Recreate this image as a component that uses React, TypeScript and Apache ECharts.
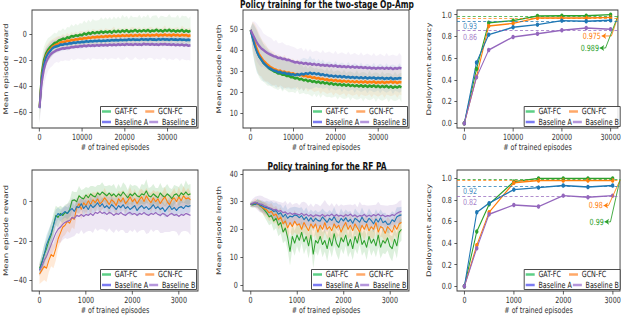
import React, { useEffect, useRef } from 'react';
import * as echarts from 'echarts';

const W = 831, H = 317;
const S = 623 / W;
const X = (v: number) => v / S;
const FONT = 'DejaVu Sans';

const NAMES = ['GAT-FC', 'GCN-FC', 'Baseline A', 'Baseline B'];
const COLORS = ['#2ca02c', '#ff7f0e', '#1f77b4', '#9467bd'];
const LEGEND_COLORS = ['#5ccf86', '#ffa868', '#7b7bf2', '#b596dc'];

// ---------- Op-Amp: reward (every 500 episodes) ----------
const TOP_STEP = 500;
const TL_GAT = [-56, -30, -20, -15, -12, -10, -8.5, -7, -6.5, -5,
  -4.5, -3.5, -4, -2.5, -3, -1.5, -2, -1, -1.5, -0.5,
  -1, 0.5, -0.5, 1, 0, 1.5, 0.5, 1.5, 0.8, 2,
  1, 2, 1.2, 2.2, 1, 2.5, 1.5, 2.5, 1.5, 2.8,
  1.8, 3, 1.5, 2.5, 2, 3.2, 1.8, 2.8, 2, 3,
  2, 3.2, 1.8, 2.8, 2.2, 3.4, 2, 3, 1.8, 3.2,
  2.2, 3.4, 2, 3, 1.8, 2.8, 2, 3.2, 1.6, 2.8,
  1.8, 2.6];
const TL_GCN = [-56, -33, -23, -17, -14, -12, -10, -9, -8, -7.5,
  -6.5, -6, -6.2, -5, -5.5, -4.5, -4.8, -4, -4.2, -3.5,
  -3.8, -3, -3.4, -2.6, -3, -2.2, -2.7, -2, -2.5, -1.8,
  -2.3, -1.6, -2.1, -1.4, -2, -1.2, -1.8, -1.1, -1.7, -1,
  -1.6, -0.9, -1.5, -0.8, -1.6, -0.7, -1.4, -0.6, -1.5, -0.8,
  -1.3, -0.5, -1.4, -0.7, -1.2, -0.4, -1.3, -0.6, -1.1, -0.3,
  -1.2, -0.5, -1.3, -0.4, -1.1, -0.6, -1.4, -0.5, -1.2, -0.7,
  -1.5, -0.9];
const TL_A = [-57, -34, -24, -18, -15, -13, -11, -10, -9.5, -9,
  -8, -8.2, -7.5, -7.8, -7, -7.2, -6.5, -6.8, -6.2, -6.5,
  -6, -6.2, -5.6, -6, -5.4, -5.8, -5.2, -5.6, -5, -5.5,
  -4.9, -5.3, -4.7, -5.2, -4.6, -5, -4.5, -4.9, -4.3, -4.8,
  -4.4, -4.7, -4.1, -4.6, -4, -4.5, -4.2, -4.6, -3.9, -4.4,
  -4, -4.5, -3.8, -4.3, -4.1, -4.6, -3.9, -4.4, -3.8, -4.3,
  -4, -4.5, -3.9, -4.4, -4.1, -4.6, -4, -4.5, -4.2, -4.7,
  -4.3, -4.8];
const TL_B = [-57, -38, -28, -22, -18.5, -16, -14.5, -13.5, -12.5, -12,
  -11.5, -11, -11.2, -10.5, -10.8, -10, -10.2, -9.6, -9.9, -9.2,
  -9.5, -8.9, -9.4, -8.7, -9.2, -8.6, -9.1, -8.4, -9, -8.3,
  -8.9, -8.2, -8.8, -8.1, -8.7, -8, -8.6, -7.9, -8.5, -7.8,
  -8.4, -7.7, -8.3, -7.9, -8.5, -7.6, -8.2, -7.8, -8.4, -7.5,
  -8.1, -7.7, -8.3, -7.6, -8.2, -7.8, -8.4, -7.7, -8.1, -7.6,
  -8.3, -7.8, -8.5, -7.9, -8.6, -8, -8.7, -8.1, -8.8, -8.2,
  -9, -8.6];
const TL_GAT_S = [12, 11, 10, 9, 9, 8, 8, 8, 7, 8, 7, 8, 7, 8, 8, 9, 8, 9, 8, 9,
  9, 10, 9, 10, 9, 10, 10, 9, 10, 11, 10, 11, 10, 11, 10, 11, 10, 11, 10, 12,
  11, 11, 10, 12, 11, 10, 11, 12, 10, 11, 11, 12, 10, 11, 12, 11, 10, 11, 12, 10,
  11, 12, 11, 10, 11, 12, 10, 11, 12, 11, 10, 11];
const TL_GCN_S = [12, 10, 9, 8, 7, 7, 6, 6, 6, 6, 5, 6, 5, 6, 5, 6, 5, 6, 5, 6,
  6, 5, 6, 6, 5, 6, 6, 5, 6, 6, 5, 6, 6, 5, 6, 7, 5, 6, 6, 5,
  6, 6, 5, 6, 7, 5, 6, 6, 5, 6, 6, 5, 7, 6, 5, 6, 6, 5, 6, 7,
  5, 6, 6, 5, 6, 6, 5, 7, 6, 5, 6, 6];
const TL_A_S = [12, 10, 8, 7, 6, 6, 6, 5, 5, 5, 5, 5, 4, 5, 5, 4, 5, 5, 4, 5,
  5, 4, 5, 5, 4, 5, 5, 4, 5, 5, 4, 5, 5, 4, 5, 5, 4, 5, 5, 4,
  5, 5, 4, 5, 5, 4, 5, 5, 4, 5, 5, 4, 5, 5, 4, 5, 5, 4, 5, 5,
  4, 5, 5, 4, 5, 5, 4, 5, 5, 4, 5, 5];
const TL_B_S = [12, 13, 12, 11, 10, 10, 10, 9, 9, 10, 9, 10, 9, 10, 10, 9, 10, 10, 9, 10,
  10, 11, 10, 10, 11, 10, 10, 11, 10, 11, 11, 10, 11, 11, 10, 11, 11, 10, 11, 12,
  11, 10, 11, 12, 11, 10, 11, 12, 11, 11, 12, 11, 10, 11, 12, 11, 11, 12, 10, 11,
  12, 11, 11, 12, 10, 11, 12, 11, 11, 12, 11, 12];

// ---------- Op-Amp: episode length ----------
const TM_GAT = [49.5, 46, 42.5, 39.5, 37, 35.5, 34, 33, 32, 31,
  30.5, 29.8, 29.5, 28.8, 28.9, 28.2, 28.3, 27.6, 27.8, 27,
  27, 26.4, 26.8, 25.9, 26.3, 25.5, 25.9, 25.1, 25.6, 24.8,
  25.2, 24.5, 25, 24.2, 24.8, 24, 24.5, 23.7, 24.3, 23.5,
  24, 23.3, 23.9, 23.1, 23.7, 22.9, 23.6, 22.8, 23.4, 22.7,
  23.3, 22.6, 23.3, 22.5, 23.2, 22.4, 23.1, 22.5, 23.2, 22.3,
  23, 22.2, 22.9, 22.3, 23, 22.1, 22.8, 22, 22.7, 22.1,
  22.8, 22.2];
const TM_GCN = [49.5, 46.5, 43.5, 40.5, 38, 36.5, 35, 34, 33, 32.2,
  31.5, 31, 30.6, 30, 30.2, 29.5, 29.7, 29.1, 29.3, 28.7,
  28.9, 28.3, 28.6, 27.9, 28.2, 27.5, 27.8, 27.1, 27.4, 26.7,
  27, 26.4, 26.7, 26.1, 26.4, 25.8, 26.1, 25.5, 25.9, 25.3,
  25.7, 25.1, 25.5, 24.9, 25.4, 24.8, 25.3, 24.7, 25.2, 24.6,
  25.1, 24.5, 25, 24.5, 25.1, 24.4, 24.9, 24.5, 25, 24.3,
  24.8, 24.4, 24.9, 24.3, 24.8, 24.5, 25, 24.4, 24.9, 24.3,
  24.8, 24.5];
const TM_A = [49.5, 45.5, 42, 39, 37, 35.5, 34, 33, 32, 31.3,
  30.8, 30.2, 30, 29.4, 29.6, 29, 29.2, 28.6, 28.8, 28.2,
  28.5, 28, 28.5, 28.1, 28.7, 28.3, 29, 28.5, 29.2, 28.6,
  29, 28.4, 28.8, 28.1, 28.5, 27.8, 28.2, 27.5, 27.9, 27.3,
  27.7, 27.2, 27.6, 27, 27.5, 26.9, 27.3, 26.8, 27.2, 26.7,
  27.1, 26.6, 27, 26.5, 27, 26.4, 26.9, 26.5, 26.9, 26.3,
  26.8, 26.4, 26.8, 26.2, 26.7, 26.3, 26.8, 26.1, 26.6, 26.3,
  26.7, 26.4];
const TM_B = [49.5, 47.5, 45.5, 43.5, 42, 40.8, 40, 39.2, 38.5, 38,
  37.5, 37, 36.8, 36.2, 36.3, 35.7, 35.8, 35.2, 35.3, 34.8,
  34.5, 34, 34.3, 33.7, 34, 33.4, 33.8, 33.2, 33.6, 33,
  33.4, 32.8, 33.2, 32.6, 33, 32.5, 32.9, 32.3, 32.7, 32.2,
  32.6, 32, 32.4, 31.9, 32.3, 31.8, 32.2, 31.7, 32.1, 31.6,
  32, 31.5, 31.9, 31.4, 31.8, 31.3, 31.7, 31.2, 31.6, 31.1,
  31.5, 31.2, 31.6, 31, 31.5, 31.1, 31.5, 30.9, 31.4, 31.1,
  31.6, 31.2];
const TM_GAT_S = [1, 7, 9, 10, 10, 10, 9, 9, 9, 8, 8, 8, 8, 8, 7, 8, 7, 7, 8, 7,
  7, 7, 6, 7, 7, 6, 7, 6, 7, 7, 6, 7, 6, 7, 6, 6, 7, 6, 7, 6,
  6, 7, 6, 6, 7, 6, 6, 7, 6, 6, 7, 6, 6, 7, 6, 6, 7, 6, 6, 7,
  6, 6, 7, 6, 6, 7, 6, 6, 7, 6, 6, 7];
const TM_GCN_S = [1, 7, 9, 10, 10, 9, 9, 9, 8, 8, 8, 8, 7, 8, 7, 7, 8, 7, 7, 7,
  7, 6, 7, 7, 6, 7, 6, 7, 6, 6, 7, 6, 6, 7, 6, 6, 7, 6, 6, 7,
  6, 6, 7, 6, 6, 7, 6, 6, 7, 6, 6, 7, 6, 6, 7, 6, 6, 7, 6, 6,
  7, 6, 6, 7, 6, 6, 7, 6, 6, 7, 6, 6];
const TM_A_S = [1, 7, 9, 10, 9, 9, 9, 8, 8, 8, 8, 7, 8, 7, 7, 8, 7, 7, 7, 7,
  7, 7, 6, 7, 7, 8, 7, 7, 8, 7, 7, 6, 7, 6, 7, 6, 6, 7, 6, 6,
  7, 6, 6, 7, 6, 6, 7, 6, 6, 7, 6, 6, 7, 6, 6, 7, 6, 6, 7, 6,
  6, 7, 6, 6, 7, 6, 6, 7, 6, 6, 7, 6];
const TM_B_S = [1, 6, 8, 9, 9, 9, 8, 8, 8, 8, 8, 7, 8, 7, 7, 8, 7, 7, 7, 7,
  7, 7, 6, 7, 7, 6, 7, 6, 7, 6, 6, 7, 6, 6, 7, 6, 6, 7, 6, 6,
  7, 6, 6, 7, 6, 6, 7, 6, 6, 7, 6, 6, 7, 6, 6, 7, 6, 6, 7, 6,
  6, 7, 6, 6, 7, 6, 6, 7, 6, 6, 7, 6];

// ---------- Op-Amp: deployment accuracy ----------
const TR_X = [0, 2500, 5000, 10000, 15000, 20000, 25000, 30000];
const TR_GAT = [0, 0.5, 0.925, 0.945, 0.988, 0.99, 0.99, 1.0];
const TR_GCN = [0, 0.43, 0.896, 0.92, 0.97, 0.97, 0.97, 0.975];
const TR_A = [0, 0.56, 0.816, 0.884, 0.908, 0.945, 0.94, 0.948];
const TR_B = [0, 0.424, 0.675, 0.795, 0.825, 0.856, 0.877, 0.866];
const TR_REF = [0.989, 0.975, 0.945, 0.86];
const TR_REF_LABELS = [null, null, '0.93', '0.86'];
const TR_ANN_GCN = [[28160, 0.804], [30160, 0.804], [31500, 0.98]];
const TR_ANN_GAT = [[27760, 0.693], [28960, 0.693], [31500, 0.99]];

// ---------- RF PA: reward (every 50 episodes) ----------
const BOT_STEP = 50;
const BL_GAT = [-34, -31, -27, -24, -20, -17, -12, -7, -8, -6,
  -7, -5.5, -6, -4, 0.5, 1, 0, 3, 2, 1.5,
  3.5, 2, 4, 3, 2.5, 4.5, 3.5, 5, 4, 3,
  4.5, 3, 4, 2.5, 4, 3, 5, 3.5, 2, 4,
  3, 4.5, 3, 2.5, 4, 3.5, 5.5, 3, 2.5, 4,
  3, 2, 4.5, 3, 2.5, 4, 3, 1.5, 3.5, 4,
  2.5, 4.5, 3.5, 5, 3.5, 4];
const BL_GCN = [-37, -35, -33, -34, -30, -27, -28, -24, -19, -16,
  -13, -12, -10, -11, -8, -9, -3, -1, -4, -0.5,
  -2, 0.5, -1.5, 1, -0.5, 1.5, -1, 0, 2, 0.5,
  -1.5, 1, 0, -2, 1.5, 0, 2, -1, 0.5, 2.5,
  0, 1.5, -1, 1, 2.5, 0, 3, 1, -0.5, 2,
  0, 1.5, -1, 1, 2.5, 0, -1.5, 1, 2, 0,
  2.5, 0.5, 3, 1.5, 2, 1];
const BL_A = [-35, -31, -27, -22, -19, -16, -12, -8, -6, -7,
  -6, -5, -6, -4.5, -3.5, -5, -2.5, -3, -1, -3.5,
  -2, -4, -1.5, -3, -2, -0.5, -2.5, -1, -3, -2,
  -3.5, -1.5, -2.5, -4, -2, -3, -1.5, -3.5, -2.5, -4,
  -3, -2, -4.5, -3, -2, -3.5, -2.5, -4, -3, -1.5,
  -3.5, -2.5, -4, -3, -5, -3.5, -2, -4, -3, -4.5,
  -3, -2.5, -3.5, -2, -2.5, -2];
const BL_B = [-35, -33, -30, -28, -25, -22, -19, -16, -14, -13,
  -11.5, -10.5, -10, -9.5, -8, -8.5, -7, -7.5, -6.5, -7.5,
  -6.5, -7, -6, -7, -5.5, -6, -5, -6, -5.5, -6.5,
  -5.5, -6, -7, -6, -6.5, -5.5, -6.5, -7, -6, -5.5,
  -6.5, -6, -7, -6, -6.5, -5.5, -6.5, -7, -6, -6.5,
  -5.5, -6.5, -7, -6, -6.5, -7.5, -6.5, -6, -7, -6.5,
  -7.5, -6.5, -7, -6, -6.5, -7];
const BL_GAT_S = [3, 4, 5, 5, 5, 6, 6, 5, 5, 4, 4, 4, 5, 5, 5, 4, 5, 5, 4, 5,
  4, 5, 4, 5, 5, 4, 5, 5, 4, 5, 4, 5, 5, 4, 5, 4, 5, 5, 4, 5,
  5, 4, 5, 4, 5, 5, 6, 4, 5, 5, 4, 5, 5, 4, 5, 5, 4, 5, 5, 4,
  5, 5, 4, 6, 5, 5];
const BL_GCN_S = [5, 6, 7, 7, 6, 6, 6, 6, 5, 5, 5, 5, 5, 5, 5, 5, 4, 5, 5, 4,
  5, 4, 5, 4, 5, 4, 5, 4, 5, 4, 5, 4, 4, 5, 4, 5, 4, 5, 4, 5,
  4, 5, 4, 5, 4, 5, 4, 4, 5, 4, 5, 4, 5, 4, 5, 4, 5, 4, 5, 4,
  5, 4, 5, 4, 5, 4];
const BL_A_S = [3, 4, 5, 5, 5, 5, 4, 4, 3, 3, 3, 3, 3, 3, 4, 3, 3, 3, 3, 4,
  3, 3, 4, 3, 3, 4, 3, 3, 4, 3, 3, 4, 3, 3, 4, 3, 3, 4, 3, 3,
  4, 3, 3, 4, 3, 3, 4, 3, 3, 4, 3, 3, 4, 3, 3, 4, 3, 3, 4, 3,
  3, 4, 3, 3, 4, 3];
const BL_B_S = [3, 3, 4, 5, 5, 6, 6, 7, 7, 8, 8, 8, 9, 9, 10, 9, 9, 9, 8, 9,
  9, 8, 9, 9, 8, 9, 9, 8, 9, 9, 8, 9, 9, 8, 9, 9, 8, 9, 10, 9,
  9, 8, 9, 9, 8, 9, 10, 9, 8, 9, 9, 8, 9, 10, 9, 8, 9, 9, 8, 9,
  10, 9, 8, 9, 9, 10];

// ---------- RF PA: episode length ----------
const BM_GAT = [29, 28.8, 29.2, 29.5, 28.5, 28, 27, 26, 24.5, 25,
  23, 24, 21.5, 22.5, 19, 20.5, 17, 12, 17.5, 15,
  18, 16, 19, 15.5, 17.5, 14, 18, 11, 16, 15,
  17.5, 14.5, 16, 13, 17, 14, 18.5, 15, 13.5, 17,
  15.5, 18, 14, 16.5, 13, 17.5, 15, 19, 14.5, 16,
  13.5, 17.5, 15, 16.5, 14, 18, 13.5, 16, 15, 17,
  14, 13, 16.5, 14, 19, 20];
const BM_GCN = [29, 29.2, 29.5, 29, 28.8, 28, 27.5, 27, 26, 26.5,
  25, 25.5, 23.5, 24.5, 22, 23, 20.5, 22.5, 21, 23,
  21.5, 22, 20, 22.5, 21, 19.5, 22, 20.5, 22, 19,
  21.5, 20, 22.5, 20, 21, 19.5, 22, 20.5, 21.5, 19,
  21, 22.5, 20, 21.5, 19.5, 22, 20.5, 19, 21.5, 20,
  22, 19.5, 21, 20, 22.5, 19, 21, 20.5, 18.5, 21,
  20, 19, 21.5, 20, 22, 22.5];
const BM_A = [29, 29.3, 29, 29.4, 28.8, 28.5, 28, 27.8, 27.5, 27.2,
  26.5, 26.8, 25.5, 26, 24.5, 25.5, 24, 24.8, 24.5, 25.2,
  25, 24.2, 25, 23.5, 24.5, 23, 24.2, 22.8, 24, 23.2,
  23, 24.5, 23.5, 22.5, 24, 23.2, 24.6, 23, 22.4, 24,
  23, 24.2, 22.8, 23.6, 22.2, 24, 23.4, 22.6, 24.4, 23,
  22.5, 24, 23.2, 22, 23.8, 22.6, 24.2, 22.4, 23, 21.8,
  22, 23.5, 22.8, 24.5, 25, 25.2];
const BM_B = [29, 29.5, 29.8, 29.5, 29.2, 29, 28.5, 28.2, 27.8, 27.5,
  27, 27.2, 26.5, 26.8, 26, 26.3, 25.5, 26, 25.4, 25.8,
  25.5, 25.2, 25.8, 25, 25.5, 24.8, 25.3, 24.6, 25.2, 25,
  24.8, 25.4, 24.6, 25.2, 24.9, 25.5, 24.7, 25.3, 24.8, 25.1,
  24.6, 25.3, 24.9, 25.5, 24.7, 25.2, 24.5, 25, 24.8, 25.4,
  24.6, 25.1, 24.7, 25.3, 24.9, 25.5, 24.8, 25.2, 24.6, 25,
  24.8, 25.3, 25, 25.8, 26.2, 26.5];
const BM_GAT_S = [0.8, 1, 1, 1.5, 2, 2, 2.5, 3, 3, 3, 3.5, 3.5, 4, 4, 4, 4.5, 4.5, 5, 4.5, 4.5,
  4, 4.5, 4, 4.5, 4, 4.5, 4, 5, 4, 4.5, 4, 4.5, 4, 4.5, 4, 4, 4.5, 4, 4.5, 4,
  4.5, 4, 4, 4.5, 4, 4.5, 4, 4.5, 4, 4, 4.5, 4, 4.5, 4, 4, 4.5, 4, 4.5, 4, 4.5,
  4, 4.5, 4, 4.5, 4, 4];
const BM_GCN_S = [0.8, 1, 1.5, 1.5, 2, 2, 2.5, 2.5, 3, 3, 3, 3, 3.5, 3.5, 3.5, 3.5, 4, 3.5, 3.5, 4,
  3.5, 3.5, 4, 3.5, 3.5, 4, 3.5, 3.5, 4, 3.5, 3.5, 4, 3.5, 3.5, 4, 3.5, 3.5, 4, 3.5, 3.5,
  4, 3.5, 3.5, 4, 3.5, 3.5, 4, 3.5, 3.5, 4, 3.5, 3.5, 4, 3.5, 3.5, 4, 3.5, 3.5, 4, 3.5,
  3.5, 4, 3.5, 3.5, 4, 3.5];
const BM_A_S = [0.8, 1, 1, 1.5, 1.5, 2, 2, 2.5, 2.5, 3, 3, 3, 3.5, 3, 3, 3.5, 3, 3, 3.5, 3,
  3, 3.5, 3, 3, 3.5, 3, 3, 3.5, 3, 3, 3.5, 3, 3, 3.5, 3, 3, 3.5, 3, 3, 3.5,
  3, 3, 3.5, 3, 3, 3.5, 3, 3, 3.5, 3, 3, 3.5, 3, 3, 3.5, 3, 3, 3.5, 3, 3,
  3.5, 3, 3, 3.5, 3, 3];
const BM_B_S = [1, 1.5, 2, 2.5, 3, 3, 3, 3, 3, 3, 3.5, 3, 3.5, 3, 3.5, 4, 3.5, 4, 3.5, 3.5,
  4, 3.5, 4, 5, 4, 3.5, 4, 3.5, 4, 4, 3.5, 4, 6, 4, 3.5, 4, 3.5, 4, 3.5, 4,
  4, 3.5, 4, 3.5, 4, 4, 3.5, 5, 4, 3.5, 4, 3.5, 4, 3.5, 4, 4.5, 4, 3.5, 4, 3.5,
  4, 3.5, 4, 3.5, 4, 4];

// ---------- RF PA: deployment accuracy ----------
const BR_X = [0, 250, 500, 1000, 1500, 2000, 2500, 3000];
const BR_GAT = [0, 0.507, 0.76, 0.97, 1.0, 1.0, 1.0, 1.0];
const BR_GCN = [0, 0.38, 0.686, 0.96, 0.98, 0.98, 0.98, 0.98];
const BR_A = [0, 0.686, 0.77, 0.896, 0.915, 0.934, 0.92, 0.934];
const BR_B = [0, 0.353, 0.668, 0.754, 0.739, 0.84, 0.825, 0.84];
const BR_REF = [0.993, 0.98, 0.934, 0.835];
const BR_REF_LABELS = [null, null, '0.92', '0.82'];
const BR_ANN_GCN = [[2816, 0.748], [2916, 0.748], [3150, 0.985]];
const BR_ANN_GAT = [[2836, 0.597], [2956, 0.597], [3150, 0.993]];

// ---------- axes ticks ----------
const X_TICKS_TOP = [0, 10000, 20000, 30000];
const X_TICKS_BOT = [0, 1000, 2000, 3000];
const Y_TICKS_TL = [-60, -40, -20, 0];
const Y_TICKS_TM = [10, 20, 30, 40, 50];
const Y_TICKS_ACC = [0, 0.2, 0.4, 0.6, 0.8, 1.0];
const Y_TICKS_BL = [-40, -20, 0];
const Y_TICKS_BM = [0, 10, 20, 30, 40];

const GRIDS = [
  { l: 32, r: 198, t: 10, b: 128 },
  { l: 243, r: 409, t: 10, b: 128 },
  { l: 457, r: 621.7, t: 10, b: 128 },
  { l: 32, r: 198, t: 170, b: 291 },
  { l: 243, r: 409, t: 170, b: 291 },
  { l: 457, r: 621.7, t: 170, b: 291 },
];

const TXT = { fontSize: 8.5, fontFamily: FONT, color: '#333' };
const minus = (v: number) => String(v).replace('-', '\u2212');

function xAxisCfg(gi: number, min: number, max: number, ticks: number[], gap: number) {
  return {
    type: 'value', gridIndex: gi, min, max,
    name: '# of trained episodes', nameLocation: 'middle', nameGap: gap,
    nameTextStyle: { ...TXT },
    axisLine: { show: false, onZero: false },
    axisTick: { show: true, length: 3.5, customValues: ticks, lineStyle: { color: '#333', width: 0.9 } },
    axisLabel: { ...TXT, margin: 5, customValues: ticks, formatter: (v: number) => String(v) },
    splitLine: { show: false },
  };
}
function yAxisCfg(gi: number, min: number, max: number, ticks: number[], name: string, gap: number, fmt: (v: number) => string) {
  return {
    type: 'value', gridIndex: gi, min, max,
    name, nameLocation: 'middle', nameGap: gap, nameRotate: 90,
    nameTextStyle: { ...TXT },
    axisLine: { show: false, onZero: false },
    axisTick: { show: true, length: 3.5, customValues: ticks, lineStyle: { color: '#333', width: 0.9 } },
    axisLabel: { ...TXT, margin: 7, customValues: ticks, formatter: fmt },
    splitLine: { show: false },
  };
}

function bandSeries(gi: number, step: number, m: number[], s: number[], color: string, opacity: number) {
  const lo = m.map((v, i) => v - s[i]);
  const hi = m.map((v, i) => v + s[i]);
  return {
    type: 'custom', xAxisIndex: gi, yAxisIndex: gi, silent: true, z: 1,
    data: m.map((v, i) => [i * step, lo[i], hi[i]]),
    encode: { x: 0, y: [1, 2] },
    renderItem: (params: any, api: any) => {
      if (params.dataIndex !== 0) return null;
      const pts: number[][] = [];
      for (let i = 0; i < m.length; i++) pts.push(api.coord([i * step, hi[i]]));
      for (let i = m.length - 1; i >= 0; i--) pts.push(api.coord([i * step, lo[i]]));
      return { type: 'polygon', shape: { points: pts }, style: { fill: color, opacity } };
    },
  };
}

function noisySeries(gi: number, step: number, means: number[][], stds: number[][], bandOpacity: number, width: number) {
  const out: any[] = [];
  means.forEach((m, k) => out.push(bandSeries(gi, step, m, stds[k], COLORS[k], bandOpacity)));
  means.forEach((m, k) => {
    out.push({
      type: 'line', name: NAMES[k], xAxisIndex: gi, yAxisIndex: gi, symbol: 'none', z: 2,
      lineStyle: { color: COLORS[k], width }, itemStyle: { color: COLORS[k] },
      data: m.map((v, i) => [i * step, v]),
    });
  });
  return out;
}

function accSeries(gi: number, xs: number[], vals: number[][], refs: number[], labels: (string | null)[], labelDist: number[], anns: { k: number; pts: number[][]; text: string }[]) {
  const out: any[] = [];
  vals.forEach((v, k) => {
    const lbl = labels[k];
    out.push({
      type: 'line', name: NAMES[k], xAxisIndex: gi, yAxisIndex: gi, z: 2,
      symbol: 'circle', symbolSize: 4.5,
      lineStyle: { color: COLORS[k], width: 1.4 }, itemStyle: { color: COLORS[k] },
      data: xs.map((x, i) => [x, v[i]]),
      markLine: {
        silent: true, symbol: ['none', 'none'], animation: false,
        lineStyle: { type: [4, 3], width: 1, color: COLORS[k], opacity: 0.85 },
        label: lbl
          ? { show: true, formatter: lbl, position: 'insideStartBottom', distance: [8, labelDist[k]], color: COLORS[k], fontSize: 8.5, fontFamily: FONT }
          : { show: false },
        data: [{ yAxis: refs[k] }],
      },
    });
  });
  anns.forEach((a, j) => {
    const c = COLORS[a.k];
    out.push({
      type: 'line', name: 'ann' + gi + '_' + j, xAxisIndex: gi, yAxisIndex: gi, z: 3, silent: true,
      showSymbol: true, symbol: 'none', clip: false,
      lineStyle: { color: c, width: 1 }, itemStyle: { color: c },
      data: a.pts.map((p, i) => i === 0
        ? {
          value: p, symbol: 'arrow', symbolSize: [4.5, 6], symbolRotate: 90,
          label: { show: true, position: 'left', distance: 1, formatter: a.text, color: c, fontSize: 8.5, fontFamily: FONT },
        }
        : { value: p, symbol: 'none' }),
    });
  });
  return out;
}

function buildOption() {
  const grid = GRIDS.map(g => ({
    left: X(g.l), top: g.t, width: X(g.r - g.l), height: g.b - g.t,
    show: true, borderColor: '#3c3c3c', borderWidth: 1.2, backgroundColor: 'transparent',
  }));
  const xAxis = [
    xAxisCfg(0, -1775, 37275, X_TICKS_TOP, 14),
    xAxisCfg(1, -1775, 37275, X_TICKS_TOP, 14),
    xAxisCfg(2, -1500, 31500, X_TICKS_TOP, 14),
    xAxisCfg(3, -162, 3412, X_TICKS_BOT, 15),
    xAxisCfg(4, -162, 3412, X_TICKS_BOT, 15),
    xAxisCfg(5, -150, 3150, X_TICKS_BOT, 15),
  ];
  const accFmt = (v: number) => v.toFixed(1);
  const yAxis = [
    yAxisCfg(0, -72.3, 18.5, Y_TICKS_TL, 'Mean episode reward', 30, minus),
    yAxisCfg(1, 2.9, 59.0, Y_TICKS_TM, 'Mean episode length', 28, minus),
    yAxisCfg(2, -0.043, 1.043, Y_TICKS_ACC, 'Deployment accuracy', 33, accFmt),
    yAxisCfg(3, -45.6, 16.2, Y_TICKS_BL, 'Mean episode reward', 30, minus),
    yAxisCfg(4, -2.2, 41.4, Y_TICKS_BM, 'Mean episode length', 28, minus),
    yAxisCfg(5, -0.044, 1.078, Y_TICKS_ACC, 'Deployment accuracy', 33, accFmt),
  ];
  const series = [
    ...noisySeries(0, TOP_STEP, [TL_GAT, TL_GCN, TL_A, TL_B], [TL_GAT_S, TL_GCN_S, TL_A_S, TL_B_S], 0.09, 2.6),
    ...noisySeries(1, TOP_STEP, [TM_GAT, TM_GCN, TM_A, TM_B], [TM_GAT_S, TM_GCN_S, TM_A_S, TM_B_S], 0.09, 2.6),
    ...accSeries(2, TR_X, [TR_GAT, TR_GCN, TR_A, TR_B], TR_REF, TR_REF_LABELS, [1, 1, 0.5, 3], [
      { k: 1, pts: TR_ANN_GCN, text: '0.975' },
      { k: 0, pts: TR_ANN_GAT, text: '0.989' },
    ]),
    ...noisySeries(3, BOT_STEP, [BL_GAT, BL_GCN, BL_A, BL_B], [BL_GAT_S, BL_GCN_S, BL_A_S, BL_B_S], 0.16, 1.3),
    ...noisySeries(4, BOT_STEP, [BM_GAT, BM_GCN, BM_A, BM_B], [BM_GAT_S, BM_GCN_S, BM_A_S, BM_B_S], 0.16, 1.3),
    ...accSeries(5, BR_X, [BR_GAT, BR_GCN, BR_A, BR_B], BR_REF, BR_REF_LABELS, [1, 1, 1, 1], [
      { k: 1, pts: BR_ANN_GCN, text: '0.98' },
      { k: 0, pts: BR_ANN_GAT, text: '0.99' },
    ]),
  ];

  const legend: any[] = [];
  const graphic: any[] = [];
  const legendCommon = {
    orient: 'horizontal', padding: 0, itemWidth: 12, itemHeight: 2.5, icon: 'rect',
    selectedMode: false, z: 6,
    textStyle: { fontSize: 8.5, fontFamily: FONT, color: '#222', lineHeight: 9 },
  };
  GRIDS.forEach(g => {
    const boxR = g.r - 1.5, boxL = boxR - 96, boxB = g.b - 1.5, boxT = boxB - 20;
    graphic.push({
      type: 'rect', z: 5, silent: true,
      shape: { x: X(boxL), y: boxT, width: X(96), height: 20 },
      style: { fill: 'rgba(255,255,255,0.85)', stroke: '#333', lineWidth: 1 },
    });
    legend.push({
      ...legendCommon, left: X(boxL + 1.5), top: boxT + 0.5, itemGap: X(8),
      data: [0, 1].map(k => ({ name: NAMES[k], itemStyle: { color: LEGEND_COLORS[k] } })),
    });
    legend.push({
      ...legendCommon, left: X(boxL + 1.5), top: boxT + 11, itemGap: X(1),
      data: [2, 3].map(k => ({ name: NAMES[k], itemStyle: { color: LEGEND_COLORS[k] } })),
    });
  });

  const titleStyle = { fontSize: 10, fontWeight: 'bold', fontFamily: FONT, color: '#111' };
  const title = [
    { text: 'Policy training for the two-stage Op-Amp', left: X(327), top: -0.5, padding: 0, textAlign: 'center', textStyle: titleStyle },
    { text: 'Policy training for the RF PA', left: X(327), top: 161.5, padding: 0, textAlign: 'center', textStyle: titleStyle },
  ];

  return { animation: false, backgroundColor: '#fff', title, grid, xAxis, yAxis, series, legend, graphic };
}

export default function App() {
  const ref = useRef<HTMLDivElement>(null);
  useEffect(() => {
    if (!ref.current) return;
    const chart = echarts.init(ref.current, null, { renderer: 'svg' });
    chart.setOption(buildOption() as any);
    return () => chart.dispose();
  }, []);
  return (
    <div style={{ position: 'absolute', left: 0, top: 0, width: 623, height: 317, overflow: 'hidden', background: '#fff' }}>
      <div ref={ref} style={{ width: W, height: H, transform: `scaleX(${S})`, transformOrigin: '0 0' }} />
    </div>
  );
}
